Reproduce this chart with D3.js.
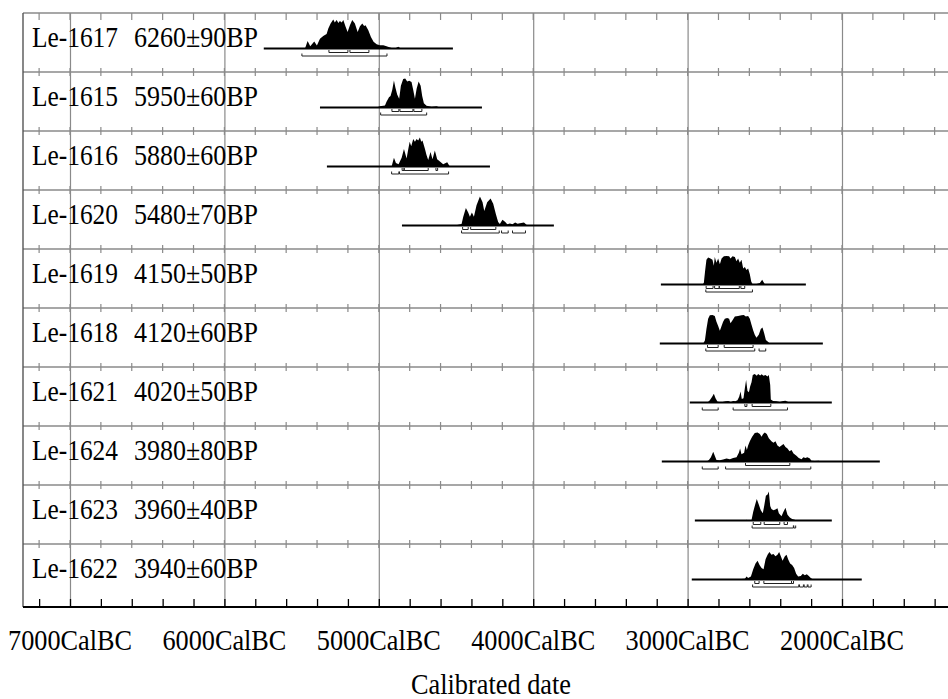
<!DOCTYPE html>
<html>
<head>
<meta charset="utf-8">
<script src="https://cdn.jsdelivr.net/npm/d3@7"></script>
<style>
	html, body { margin: 0; padding: 0; background: #fff; }
	svg { display: block; }
	text { font-family: "Liberation Serif", "Times New Roman", serif; fill: #000; }
</style>
</head>
<body>
<svg id="chart" width="948" height="699"></svg>
<script>
// sample labels (top to bottom)
const sampleNames = ["Le-1617", "Le-1615", "Le-1616", "Le-1620", "Le-1619",
	"Le-1618", "Le-1621", "Le-1624", "Le-1623", "Le-1622"];
const bpDates = ["6260±90BP", "5950±60BP", "5880±60BP", "5480±70BP", "4150±50BP",
	"4120±60BP", "4020±50BP", "3980±80BP", "3960±40BP", "3940±60BP"];

// extent of the thin baseline for each sample, years BC
const lineExtents = [[5745, 4520], [5381, 4332], [5336, 4280], [4850, 3866], [3173, 2234],
	[3180, 2124], [2986, 2066], [3167, 1755], [2953, 2066], [2973, 1872]];

// probability curves [year BC, relative probability]
const densities = [
	[[5478,0],[5461,.26],[5444,.08],[5418,.24],[5401,.10],[5381,.34],[5360,.43],[5338,.50],[5327,.69],[5312,.86],[5295,1],[5285,.9],[5273,.98],[5262,.88],[5252,.95],[5240,.9],[5230,.98],[5215,.75],[5202,.57],[5187,.80],[5172,.98],[5155,.86],[5137,.57],[5122,.77],[5107,.86],[5095,.78],[5086,.80],[5068,.63],[5051,.40],[5034,.23],[5014,.15],[4993,.11],[4971,.11],[4950,.08],[4917,.02],[4896,0],[4874,.06],[4857,0]],
	[[5014,0],[4993,.04],[4960,.07],[4950,.2],[4934,.35],[4924,.4],[4913,.6],[4902,.93],[4893,.7],[4881,.45],[4868,.3],[4857,.75],[4842,.98],[4829,1],[4816,.9],[4803,.92],[4788,.88],[4777,.6],[4766,.3],[4755,.65],[4742,.9],[4729,.75],[4719,.4],[4708,.15],[4691,.06],[4658,.03],[4626,.04],[4604,0]],
	[[4917,0],[4902,.3],[4889,.12],[4872,.08],[4852,.3],[4837,.6],[4820,.28],[4809,.6],[4800,.85],[4790,.7],[4777,.95],[4766,.85],[4755,.95],[4745,.9],[4734,1],[4725,.85],[4717,.9],[4701,.6],[4691,.4],[4680,.22],[4665,.5],[4652,.25],[4637,.55],[4622,.25],[4604,.17],[4583,.08],[4557,.15],[4540,0]],
	[[4507,0],[4486,.03],[4464,.05],[4453,.3],[4436,.6],[4421,.45],[4410,.3],[4397,.45],[4384,.3],[4367,.7],[4345,1],[4328,.8],[4317,.5],[4298,.8],[4276,.93],[4259,.75],[4242,.4],[4227,.12],[4216,.05],[4199,.2],[4181,.12],[4168,.04],[4151,.07],[4134,.04],[4117,.1],[4101,.06],[4086,.08],[4060,.1],[4047,.04],[4039,0]],
	[[2904,0],[2895,.05],[2886,.5],[2878,.85],[2867,.93],[2852,.9],[2839,.85],[2830,.65],[2824,.95],[2813,.75],[2802,.9],[2791,.7],[2780,.9],[2765,.97],[2748,.98],[2731,.97],[2722,.9],[2709,.97],[2694,.95],[2683,.8],[2673,.9],[2662,.75],[2651,.85],[2640,.55],[2629,.6],[2619,.5],[2608,.55],[2597,.35],[2588,.1],[2580,.02],[2554,.02],[2532,.05],[2517,.16],[2502,.03],[2485,0]],
	[[2899,0],[2888,.1],[2878,.5],[2867,.85],[2856,.97],[2839,.98],[2824,.95],[2813,.75],[2802,.6],[2791,.44],[2780,.6],[2770,.75],[2759,.85],[2744,.88],[2731,.85],[2722,.7],[2709,.8],[2694,.93],[2673,.95],[2651,.97],[2636,.98],[2623,.93],[2608,.95],[2597,.85],[2586,.65],[2575,.45],[2565,.3],[2554,.2],[2539,.3],[2526,.5],[2515,.55],[2504,.35],[2493,.12],[2478,.05],[2468,0]],
	[[2871,0],[2856,.08],[2841,.2],[2830,.3],[2819,.15],[2806,.03],[2780,.01],[2754,.04],[2737,.05],[2720,.02],[2705,.05],[2690,.04],[2677,.08],[2666,.2],[2657,.38],[2649,.12],[2638,.15],[2629,.5],[2621,.78],[2612,.4],[2603,.35],[2595,.55],[2586,.7],[2578,.95],[2565,.98],[2552,.92],[2543,.98],[2530,.93],[2521,.97],[2508,.92],[2496,.95],[2483,.9],[2474,.95],[2465,.6],[2461,.1],[2446,.05],[2424,.04],[2403,.02],[2381,.05],[2366,.06],[2349,.02],[2327,.01],[2306,0]],
	[[2877,0],[2862,.05],[2849,.15],[2834,.34],[2824,.2],[2813,.05],[2791,.04],[2770,.07],[2748,.1],[2726,.08],[2705,.12],[2683,.15],[2668,.3],[2660,.45],[2651,.25],[2634,.3],[2625,.55],[2616,.4],[2608,.55],[2597,.7],[2582,.85],[2565,.98],[2547,1],[2532,.95],[2521,.85],[2511,.95],[2500,1],[2487,.95],[2474,.8],[2457,.7],[2444,.65],[2431,.7],[2418,.55],[2405,.5],[2392,.55],[2379,.6],[2366,.5],[2353,.45],[2340,.35],[2327,.4],[2314,.28],[2295,.2],[2280,.12],[2262,.08],[2250,.15],[2237,.12],[2224,.15],[2208,.1],[2198,.03],[2176,.02],[2150,.03],[2133,0]],
	[[2625,0],[2618,.03],[2610,0],[2586,.02],[2575,.3],[2565,.5],[2552,.74],[2539,.55],[2526,.35],[2513,.25],[2504,.5],[2493,.85],[2482,.9],[2474,1],[2465,.5],[2457,.4],[2444,.35],[2431,.38],[2418,.42],[2409,.25],[2392,.15],[2379,.3],[2366,.44],[2353,.2],[2338,.1],[2323,.05],[2306,.03],[2293,0]],
	[[2672,0],[2651,.02],[2629,.03],[2618,.1],[2608,.05],[2590,.1],[2575,.35],[2560,.55],[2547,.65],[2534,.5],[2521,.4],[2508,.35],[2495,.7],[2482,.85],[2470,.95],[2457,.85],[2444,.88],[2431,.8],[2418,.85],[2407,.95],[2396,.8],[2385,.65],[2370,.8],[2359,.85],[2349,.7],[2336,.55],[2323,.5],[2310,.4],[2297,.2],[2284,.1],[2267,.12],[2254,.2],[2241,.15],[2228,.18],[2215,.12],[2202,.05],[2187,0]]
];

// 68.2% and 95.4% ranges, years BC
const sigma1 = [
	[[5323,5200],[5187,5064]],
	[[4915,4870],[4863,4779],[4773,4721]],
	[[4849,4836],[4836,4680],[4630,4619]],
	[[4457,4421],[4405,4242]],
	[[2880,2835],[2825,2795],[2795,2665],[2655,2630]],
	[[2871,2802],[2763,2576]],
	[[2629,2616],[2582,2461]],
	[[2625,2338]],
	[[2575,2526],[2504,2403],[2375,2353]],
	[[2565,2537],[2506,2327],[2327,2314]]
];
const sigma2 = [
	[[5498,4947]],
	[[4988,4690]],
	[[4917,4870],[4866,4548]],
	[[4464,4220],[4205,4162],[4134,4050]],
	[[2882,2580]],
	[[2882,2565],[2537,2494]],
	[[2905,2802],[2705,2353]],
	[[2905,2802],[2754,2202]],
	[[2582,2315],[2312,2300]],
	[[2579,2280],[2275,2250],[2245,2225],[2220,2200]]
];

// axis ticks, years BC
const majorTicks = [7000, 6000, 5000, 4000, 3000, 2000];
const minorTicks = d3.range(7200, 1300, -200);
const axisTitle = "Calibrated date";

function fitText(sel, width) {
	// narrow the glyphs to the width of the original condensed Times
	sel.attr('textLength', width).attr('lengthAdjust', 'spacingAndGlyphs');
}

function render() {
	const svg = d3.select('#chart');
	const left = 23, top = 13, axisY = 607, rowH = 59;
	const right = 948;
	const nRows = sampleNames.length;
	const fs = 29;

	const x = d3.scaleLinear().domain([7000, 2000]).range([70, 842]);
	const row = d3.scaleLinear().domain([0, nRows]).range([top, top + rowH * nRows]);
	const h = d3.scaleLinear().domain([0, 1]).range([0, 29]);

	const grid = svg.append('g').attr('class', 'grid');

	// vertical grid lines at each 1000 years
	grid.append('g')
		.attr('transform', `translate(0, ${axisY})`)
		.call(d3.axisBottom(x).tickValues(majorTicks).tickSize(-(axisY - top)).tickFormat(''))
		.call(g => g.select('.domain').remove())
		.call(g => g.selectAll('line').attr('stroke', '#8a8a8a').attr('stroke-width', 1.2));

	// horizontal row separators with small ticks
	for (let i = 0; i < nRows; i++) {
		const yy = row(i);
		grid.append('line')
			.attr('x1', left).attr('x2', right)
			.attr('y1', yy).attr('y2', yy)
			.attr('stroke', '#8a8a8a').attr('stroke-width', 1.4);
		grid.append('g')
			.selectAll('line')
			.data(minorTicks)
			.enter()
			.append('line')
			.attr('x1', d => x(d)).attr('x2', d => x(d))
			.attr('y1', i === 0 ? yy : yy - 4)
			.attr('y2', yy + (i === 0 ? 7 : 4))
			.attr('stroke', '#8a8a8a').attr('stroke-width', 1.2);
	}

	// left frame
	grid.append('line')
		.attr('x1', left).attr('x2', left)
		.attr('y1', top).attr('y2', axisY)
		.attr('stroke', '#555').attr('stroke-width', 1.4);

	// bottom axis
	const axis = svg.append('g')
		.attr('transform', `translate(0, ${axisY})`)
		.call(d3.axisBottom(x).tickValues(minorTicks).tickSize(-8).tickSizeOuter(0).tickFormat(''));
	axis.select('.domain')
		.attr('d', `M${left},0H${right}`)
		.attr('stroke', '#000').attr('stroke-width', 2);
	axis.selectAll('.tick line').attr('stroke', '#000').attr('stroke-width', 1.3);

	// tick labels
	const labels = svg.append('g')
		.selectAll('text')
		.data(majorTicks)
		.enter()
		.append('text')
		.attr('x', d => x(d))
		.attr('y', 650)
		.attr('text-anchor', 'middle')
		.attr('font-size', fs)
		.text(d => d + 'CalBC');
	fitText(labels, 124);

	const title = svg.append('text')
		.attr('x', 491)
		.attr('y', 694)
		.attr('text-anchor', 'middle')
		.attr('font-size', fs)
		.text(axisTitle);
	fitText(title, 160);

	// one group per sample
	for (let i = 0; i < nRows; i++) {
		const base = row(i) + 35.5;
		const g = svg.append('g').attr('data-sample', sampleNames[i]);

		g.append('path')
			.datum(densities[i])
			.attr('fill', '#000')
			.attr('d', d3.area()
				.x(p => x(p[0]))
				.y0(base)
				.y1(p => base - h(p[1])));

		g.append('line')
			.attr('x1', x(lineExtents[i][0])).attr('x2', x(lineExtents[i][1]))
			.attr('y1', base).attr('y2', base)
			.attr('stroke', '#000').attr('stroke-width', 2);

		// range brackets
		const bracket = (r, dy) => `M${x(r[0])},${base + dy - 2.5}V${base + dy}H${x(r[1])}V${base + dy - 2.5}`;
		g.append('g')
			.selectAll('path')
			.data(sigma1[i])
			.enter()
			.append('path')
			.attr('d', r => bracket(r, 4))
			.attr('fill', 'none').attr('stroke', '#222').attr('stroke-width', 1);
		g.append('g')
			.selectAll('path')
			.data(sigma2[i])
			.enter()
			.append('path')
			.attr('d', r => bracket(r, 7.5))
			.attr('fill', 'none').attr('stroke', '#222').attr('stroke-width', 1);

		const name = g.append('text')
			.attr('x', 32).attr('y', row(i) + 34)
			.attr('font-size', fs)
			.text(sampleNames[i]);
		fitText(name, 86);
		const date = g.append('text')
			.attr('x', 134).attr('y', row(i) + 34)
			.attr('font-size', fs)
			.text(bpDates[i]);
		fitText(date, 124);
	}
}

render();
</script>
</body>
</html>
